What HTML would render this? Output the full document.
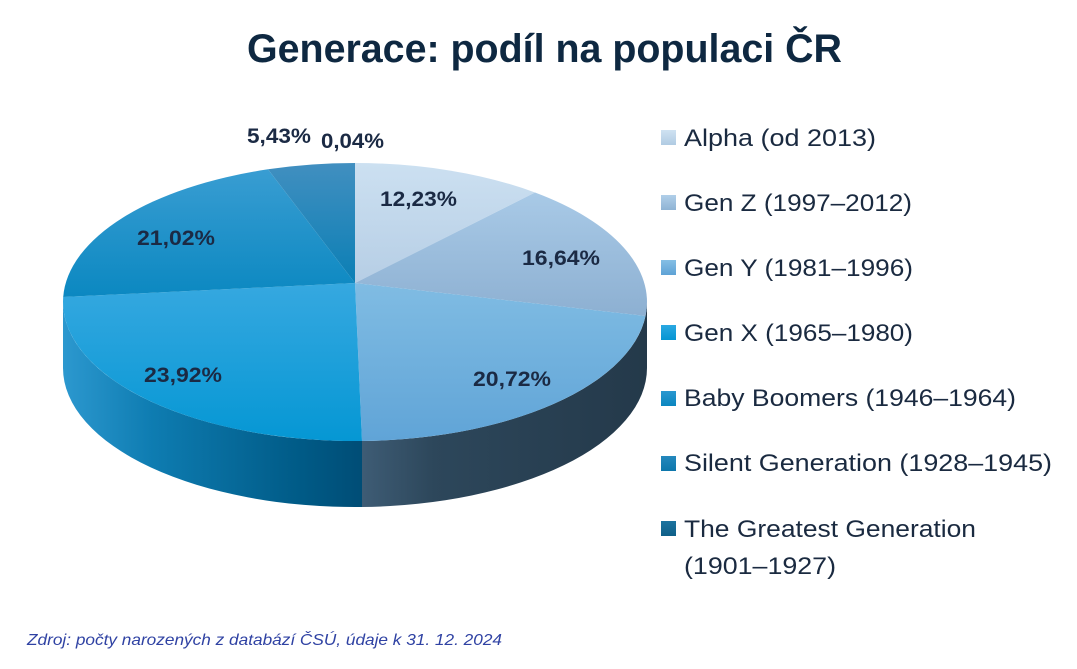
<!DOCTYPE html>
<html>
<head>
<meta charset="utf-8">
<style>
  html,body{margin:0;padding:0;background:#ffffff;}
  svg{display:block;}
</style>
</head>
<body>
<svg width="1077" height="669" viewBox="0 0 1077 669" xmlns="http://www.w3.org/2000/svg">
  <defs>
    <linearGradient id="alphaG" gradientUnits="userSpaceOnUse" x1="0" y1="163" x2="0" y2="283">
      <stop offset="0" stop-color="#cce0f1"/>
      <stop offset="1" stop-color="#b6cee5"/>
    </linearGradient>
    <linearGradient id="genzG" gradientUnits="userSpaceOnUse" x1="0" y1="190" x2="0" y2="320">
      <stop offset="0" stop-color="#a9cae7"/>
      <stop offset="1" stop-color="#8cafd1"/>
    </linearGradient>
    <linearGradient id="genyG" gradientUnits="userSpaceOnUse" x1="0" y1="283" x2="0" y2="441">
      <stop offset="0" stop-color="#80bce3"/>
      <stop offset="1" stop-color="#60a4d7"/>
    </linearGradient>
    <linearGradient id="genxG" gradientUnits="userSpaceOnUse" x1="0" y1="283" x2="0" y2="441">
      <stop offset="0" stop-color="#36a8e0"/>
      <stop offset="1" stop-color="#0597d4"/>
    </linearGradient>
    <linearGradient id="boomG" gradientUnits="userSpaceOnUse" x1="0" y1="163" x2="0" y2="297">
      <stop offset="0" stop-color="#3b9ed3"/>
      <stop offset="1" stop-color="#0b88c1"/>
    </linearGradient>
    <linearGradient id="silentG" gradientUnits="userSpaceOnUse" x1="0" y1="163" x2="0" y2="283">
      <stop offset="0" stop-color="#418fc0"/>
      <stop offset="1" stop-color="#0b7fb5"/>
    </linearGradient>
    <linearGradient id="sideX" gradientUnits="userSpaceOnUse" x1="63" y1="0" x2="362" y2="0">
      <stop offset="0" stop-color="#2c98cf"/>
      <stop offset="0.3" stop-color="#0e7cb1"/>
      <stop offset="0.8" stop-color="#005a86"/>
      <stop offset="1" stop-color="#004d76"/>
    </linearGradient>
    <linearGradient id="sideY" gradientUnits="userSpaceOnUse" x1="362" y1="0" x2="647" y2="0">
      <stop offset="0" stop-color="#3e5c75"/>
      <stop offset="0.25" stop-color="#2d475b"/>
      <stop offset="1" stop-color="#24394a"/>
    </linearGradient>
    <linearGradient id="mk1" x1="0" y1="0" x2="0" y2="1"><stop offset="0" stop-color="#cfe2f2"/><stop offset="1" stop-color="#b0cbe3"/></linearGradient>
    <linearGradient id="mk2" x1="0" y1="0" x2="0" y2="1"><stop offset="0" stop-color="#b0cfe9"/><stop offset="1" stop-color="#8fb3d4"/></linearGradient>
    <linearGradient id="mk3" x1="0" y1="0" x2="0" y2="1"><stop offset="0" stop-color="#85bfe5"/><stop offset="1" stop-color="#5ea2d6"/></linearGradient>
    <linearGradient id="mk4" x1="0" y1="0" x2="0" y2="1"><stop offset="0" stop-color="#2aa8e2"/><stop offset="1" stop-color="#0595d3"/></linearGradient>
    <linearGradient id="mk5" x1="0" y1="0" x2="0" y2="1"><stop offset="0" stop-color="#2a98d0"/><stop offset="1" stop-color="#0b86bf"/></linearGradient>
    <linearGradient id="mk6" x1="0" y1="0" x2="0" y2="1"><stop offset="0" stop-color="#2488bd"/><stop offset="1" stop-color="#0d77ab"/></linearGradient>
    <linearGradient id="mk7" x1="0" y1="0" x2="0" y2="1"><stop offset="0" stop-color="#1c739f"/><stop offset="1" stop-color="#0f5f88"/></linearGradient>
  </defs>

  <!-- Title -->
  <text x="247" y="62" font-family="'Liberation Sans', sans-serif" font-weight="bold" font-size="40" fill="#0e2841" textLength="595" lengthAdjust="spacingAndGlyphs">Generace: podíl na populaci ČR</text>

  <!-- Pie sides -->
  <path d="M63,302 A292,139 0 0 0 362,441 L362,507 A292,139 0 0 1 63,368 Z" fill="url(#sideX)"/>
  <path d="M362,441 A292,139 0 0 0 647,302 L647,368 A292,139 0 0 1 362,507 Z" fill="url(#sideY)"/>

  <!-- Pie top slices -->
  <path d="M355,283 L355,163 A292,139 0 0 1 535,192.5 Z" fill="url(#alphaG)"/>
  <path d="M355,283 L535,192.5 A292,139 0 0 1 645.5,316 Z" fill="url(#genzG)"/>
  <path d="M355,283 L645.5,316 A292,139 0 0 1 362,441 Z" fill="url(#genyG)"/>
  <path d="M355,283 L362,441 A292,139 0 0 1 63.2,297 Z" fill="url(#genxG)"/>
  <path d="M355,283 L63.2,297 A292,139 0 0 1 268,169.3 Z" fill="url(#boomG)"/>
  <path d="M355,283 L268,169.3 A292,139 0 0 1 355,163 Z" fill="url(#silentG)"/>

  <!-- Data labels -->
  <g font-family="'Liberation Sans', sans-serif" font-weight="bold" font-size="21" fill="#1b2a44" lengthAdjust="spacingAndGlyphs">
    <text x="247" y="143" textLength="64" lengthAdjust="spacingAndGlyphs">5,43%</text>
    <text x="321" y="148" textLength="63" lengthAdjust="spacingAndGlyphs">0,04%</text>
    <text x="380" y="206" textLength="77" lengthAdjust="spacingAndGlyphs">12,23%</text>
    <text x="522" y="265" textLength="78" lengthAdjust="spacingAndGlyphs">16,64%</text>
    <text x="137" y="245" textLength="78" lengthAdjust="spacingAndGlyphs">21,02%</text>
    <text x="144" y="382" textLength="78" lengthAdjust="spacingAndGlyphs">23,92%</text>
    <text x="473" y="386" textLength="78" lengthAdjust="spacingAndGlyphs">20,72%</text>
  </g>

  <!-- Legend -->
  <g>
    <rect x="661" y="130" width="15" height="15" fill="url(#mk1)"/>
    <rect x="661" y="195" width="15" height="15" fill="url(#mk2)"/>
    <rect x="661" y="260" width="15" height="15" fill="url(#mk3)"/>
    <rect x="661" y="325" width="15" height="15" fill="url(#mk4)"/>
    <rect x="661" y="391" width="15" height="15" fill="url(#mk5)"/>
    <rect x="661" y="456" width="15" height="15" fill="url(#mk6)"/>
    <rect x="661" y="521" width="15" height="15" fill="url(#mk7)"/>
  </g>
  <g font-family="'Liberation Sans', sans-serif" font-size="24" fill="#1a2a40">
    <text x="684" y="146" textLength="192" lengthAdjust="spacingAndGlyphs">Alpha (od 2013)</text>
    <text x="684" y="211" textLength="228" lengthAdjust="spacingAndGlyphs">Gen Z (1997–2012)</text>
    <text x="684" y="276" textLength="229" lengthAdjust="spacingAndGlyphs">Gen Y (1981–1996)</text>
    <text x="684" y="341" textLength="229" lengthAdjust="spacingAndGlyphs">Gen X (1965–1980)</text>
    <text x="684" y="406" textLength="332" lengthAdjust="spacingAndGlyphs">Baby Boomers (1946–1964)</text>
    <text x="684" y="471" textLength="368" lengthAdjust="spacingAndGlyphs">Silent Generation (1928–1945)</text>
    <text x="684" y="537" textLength="292" lengthAdjust="spacingAndGlyphs">The Greatest Generation</text>
    <text x="684" y="574" textLength="152" lengthAdjust="spacingAndGlyphs">(1901–1927)</text>
  </g>

  <!-- Footnote -->
  <text x="27" y="645" font-family="'Liberation Sans', sans-serif" font-style="italic" font-size="16" fill="#2f42a3" textLength="475" lengthAdjust="spacingAndGlyphs">Zdroj: počty narozených z databází ČSÚ, údaje k 31. 12. 2024</text>
</svg>
</body>
</html>
